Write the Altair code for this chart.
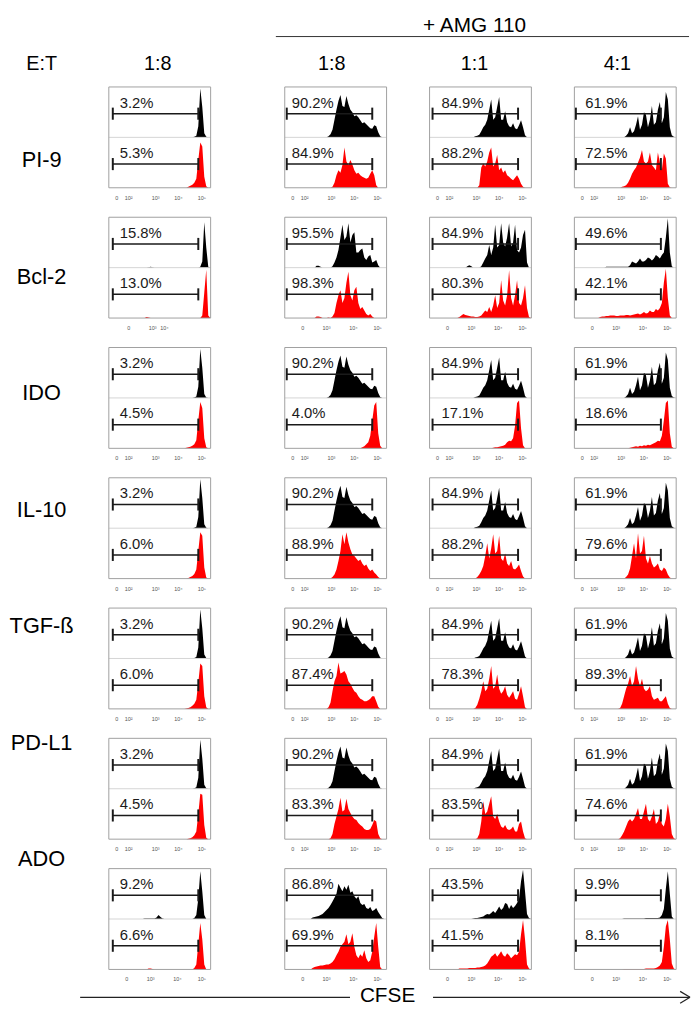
import altair as alt
import pandas as pd

FONT = "Liberation Sans"

# ---------------- text content ----------------
MARKERS = ["PI-9", "Bcl-2", "IDO", "IL-10", "TGF-ß", "PD-L1", "ADO"]
COL_TITLES = ["1:8", "1:8", "1:1", "4:1"]
ET_TITLE = "E:T"
GROUP_TITLE = "+ AMG 110"
AXIS_TITLE = "CFSE"

PCT_BLACK = [
    ["3.2%", "90.2%", "84.9%", "61.9%"],
    ["15.8%", "95.5%", "84.9%", "49.6%"],
    ["3.2%", "90.2%", "84.9%", "61.9%"],
    ["3.2%", "90.2%", "84.9%", "61.9%"],
    ["3.2%", "90.2%", "84.9%", "61.9%"],
    ["3.2%", "90.2%", "84.9%", "61.9%"],
    ["9.2%", "86.8%", "43.5%", "9.9%"],
]
PCT_RED = [
    ["5.3%", "84.9%", "88.2%", "72.5%"],
    ["13.0%", "98.3%", "80.3%", "42.1%"],
    ["4.5%", "4.0%", "17.1%", "18.6%"],
    ["6.0%", "88.9%", "88.2%", "79.6%"],
    ["6.0%", "87.4%", "78.3%", "89.3%"],
    ["4.5%", "83.3%", "83.5%", "74.6%"],
    ["6.6%", "69.9%", "41.5%", "8.1%"],
]

# ---------------- CFSE axis (display channels 0-1024) ----------------
X_MAX = 1024
BIN_START = 240
BIN_STEP = 20
N_BINS = 40
TICKS_STD_POS = [80, 200, 470, 700, 935]
TICKS_STD_LAB = ["0", "10²", "10³", "10⁴", "10⁵"]
TICKS_ALT_POS = [180, 420, 690, 935]
TICKS_ALT_LAB = ["0", "10³", "10⁴", "10⁵"]
TICKS_BCL1_POS = [200, 440, 560]
TICKS_BCL1_LAB = ["0", "10³", "10⁴"]
TICK_SET = ["std", "alt", "std", "std", "std", "std", "alt"]
MINOR_TICKS = [20, 50, 80, 110, 140, 170, 200, 281, 329, 363, 389, 410, 428, 444, 458, 470,
               539, 580, 608, 631, 649, 664, 678, 689, 700, 771, 812, 841, 864, 883, 899,
               912, 924, 935]

# gate limits and label position per column (channels)
GATE_LO = [40, 20, 30, 15]
GATE_HI = [900, 880, 890, 870]
TEXT_X = [110, 70, 120, 110]

# ---------------- histogram heights (% of half-panel), bins 240..1020 step 20 ----------------
K1 = [0,0,0,0,0,0,0,0,0,0, 0,0,0,0,0,0,0,0,0,0, 0,0,0,0,0,0,0,0,0,0, 0,1,3,22,97,60,8,1,0,0]
K2 = [0,0,0,0,0,0,0,0,0,0, 2,6,15,35,55,72,84,62,60,82, 66,55,50,42,44,40,34,28,30,26, 22,18,17,24,22,10,2,0,0,0]
K3 = [0,0,0,0,0,0,0,0,0,0, 0,2,3,5,12,20,25,35,55,75, 35,40,60,80,35,35,52,30,22,20, 28,18,16,24,34,20,4,0,0,0]
K4 = [0,0,0,0,0,0,0,0,0,0, 0,0,0,0,3,8,20,8,12,25, 42,15,25,50,45,20,35,62,25,30, 55,70,28,40,90,75,20,4,1,0]
K_STD = [K1, K2, K3, K4]

K_BCL2 = [
    [0,0,0,0,0,0,0,0,1,2, 1,0,0,0,0,0,0,0,0,0, 0,0,0,0,0,0,0,0,0,0, 0,0,0,0,2,12,90,40,2,0],
    [0,0,0,0,4,4,2,0,0,0, 0,0,3,10,20,35,60,85,55,62, 88,50,65,70,30,30,35,38,20,15, 22,25,10,12,15,5,0,0,0,0],
    [0,0,0,0,0,0,0,3,5,3, 0,0,0,0,3,10,18,25,45,25, 40,85,40,45,88,50,42,60,88,42, 50,85,35,30,40,65,75,10,0,0],
    [0,0,0,0,2,2,2,2,2,2, 2,2,2,2,2,2,5,12,10,8, 12,18,12,12,15,20,18,14,18,25, 22,18,25,30,60,98,30,3,0,0],
]
K_ADO = [
    [0,0,0,0,0,0,1,1,1,1, 1,1,3,8,4,1,0,0,0,0, 0,0,0,0,0,0,0,0,0,0, 0,2,8,40,95,55,8,0,0,0],
    [0,0,3,4,5,6,8,10,14,18, 22,28,35,42,50,70,62,55,65,58, 68,52,55,45,40,45,32,28,30,22, 20,24,16,18,22,14,8,2,0,0],
    [0,0,0,0,0,0,0,0,0,0, 1,2,2,3,4,5,8,10,9,12, 16,12,18,25,18,22,32,30,20,28, 22,26,32,40,75,98,55,10,2,0],
    [0,0,0,0,0,0,0,0,0,0, 0,0,0,1,1,1,1,1,1,1, 1,1,1,1,2,2,2,2,2,2, 2,3,8,20,60,95,50,5,0,0],
]

R_PI9 = [
    [0,0,0,0,0,0,0,0,0,0, 0,0,0,0,0,0,0,0,0,0, 0,0,0,0,0,0,0,0,2,4, 6,10,18,55,90,82,22,3,0,0],
    [0,0,0,0,0,0,0,0,0,0, 0,0,2,10,25,35,30,45,80,52, 45,55,46,35,28,30,25,22,20,18, 20,28,35,25,5,0,0,0,0,0],
    [0,0,0,0,0,0,0,0,0,0, 0,0,0,5,40,48,42,52,70,80, 42,48,65,35,40,30,35,25,22,18, 15,20,25,18,8,2,0,0,0,0],
    [0,0,0,0,0,0,0,0,0,0, 0,0,2,3,5,10,18,28,35,40, 50,60,75,52,48,52,70,45,40,35, 70,50,35,68,58,8,1,0,0,0],
]
R_BCL2 = [
    [0,0,0,0,0,0,0,2,1,0, 0,0,0,0,0,0,0,0,0,0, 0,0,0,0,0,0,0,0,0,0, 0,0,0,0,0,5,50,96,5,0],
    [0,0,0,0,3,3,2,0,0,0, 1,0,3,10,30,45,55,30,40,70, 92,45,35,55,62,30,18,22,15,8, 5,8,3,0,0,0,0,0,0,0],
    [0,0,0,2,5,8,6,5,4,3, 3,2,2,3,5,10,15,12,22,12, 25,45,20,30,75,35,25,45,95,40, 25,45,75,30,25,40,65,20,2,0],
    [0,2,3,3,4,4,5,5,5,4, 4,5,5,5,6,6,5,6,7,8, 9,7,9,12,9,10,15,12,12,18, 15,20,30,70,98,40,5,0,0,0],
]
R_IDO = [
    [0,0,0,0,0,0,0,0,0,0, 0,0,0,0,0,0,0,0,0,0, 0,0,0,0,0,0,0,1,2,3, 5,8,16,55,92,80,20,2,0,0],
    [0,0,0,0,0,0,0,0,0,0, 0,0,0,0,0,0,0,0,0,0, 0,0,0,0,0,0,0,2,4,8, 12,25,55,85,92,30,5,0,0,0],
    [0,0,0,0,0,0,0,0,0,0, 0,0,0,0,0,0,0,0,0,0, 1,2,2,3,4,5,7,12,15,14, 20,45,90,95,40,6,0,0,0,0],
    [0,0,0,0,0,0,0,0,0,0, 0,0,0,0,0,0,1,2,3,4, 3,5,4,6,5,7,6,8,10,12, 15,14,25,55,90,95,30,3,0,0],
]
R_IL10 = [
    [0,0,0,0,0,0,0,0,0,0, 0,0,0,0,0,0,0,0,0,0, 0,0,0,0,0,0,0,0,1,3, 5,9,18,55,92,85,22,2,0,0],
    [0,0,0,0,0,0,0,0,0,0, 0,0,3,8,18,35,55,88,68,92, 72,58,48,45,40,35,38,30,25,28, 20,15,18,12,8,3,0,0,0,0],
    [0,0,0,0,0,0,0,0,0,0, 0,0,3,8,15,25,45,70,40,60, 88,50,55,85,40,35,50,30,25,35, 20,18,22,28,15,4,0,0,0,0],
    [0,0,0,0,0,0,0,0,0,0, 0,0,0,0,3,8,20,45,70,40, 90,50,55,85,40,30,45,30,22,25, 30,18,15,22,18,8,2,0,0,0],
]
R_TGF = [
    [0,0,0,0,0,0,0,0,0,0, 0,0,0,0,0,0,0,0,0,0, 0,0,0,0,0,0,0,1,2,3, 6,10,18,52,90,85,25,3,0,0],
    [0,0,0,0,0,0,0,0,0,0, 3,12,35,55,65,92,70,72,75,68, 55,50,42,35,32,25,20,18,15,15, 17,20,25,25,15,4,0,0,0,0],
    [0,0,0,0,0,0,0,0,0,0, 0,2,8,20,35,55,35,40,60,85, 40,45,68,40,30,35,45,28,22,28, 35,20,18,30,45,25,3,0,0,0],
    [0,0,0,0,0,0,0,0,0,0, 0,2,10,25,40,50,65,45,55,85, 60,45,60,40,35,38,45,25,18,20, 22,15,15,20,25,10,2,0,0,0],
]
R_PDL1 = [
    [0,0,0,0,0,0,0,0,0,0, 0,0,0,0,0,0,0,0,0,0, 0,0,0,0,0,0,0,0,1,2, 4,8,15,50,90,88,28,3,0,0],
    [0,0,0,0,0,0,0,0,0,0, 0,2,10,30,45,60,82,55,58,80, 60,52,45,40,38,32,28,25,20,18, 18,20,28,38,35,10,2,0,0,0],
    [0,0,0,0,0,0,0,0,0,0, 0,0,2,10,35,75,50,55,70,85, 45,40,50,35,25,22,28,20,18,20, 25,15,15,30,35,15,2,0,0,0],
    [0,0,0,0,0,0,0,0,0,0, 0,2,8,15,25,35,40,35,40,50, 62,40,40,55,70,40,35,45,60,30, 35,50,30,25,40,70,45,10,2,0],
]
R_ADO = [
    [0,0,0,0,0,0,0,0,2,2, 1,0,0,0,0,0,0,0,0,0, 0,0,0,0,0,0,0,0,0,0, 0,3,10,50,92,60,10,0,0,0],
    [0,0,3,5,6,7,8,8,9,10, 10,12,15,20,28,35,45,50,55,70, 50,55,72,45,28,22,30,25,38,22, 15,18,35,65,92,45,5,0,0,0],
    [0,0,0,2,2,2,2,2,3,3, 3,3,4,4,5,6,8,12,18,25, 28,32,25,30,36,28,25,32,28,22, 26,30,28,35,70,98,60,10,2,0],
    [0,0,0,0,0,0,0,0,0,0, 0,0,0,1,1,1,1,1,1,1, 1,1,1,1,2,2,2,2,2,3, 5,8,15,45,85,98,60,12,2,0],
]

BLACK = [K_STD, K_BCL2, K_STD, K_STD, K_STD, K_STD, K_ADO]
RED = [R_PI9, R_BCL2, R_IDO, R_IL10, R_TGF, R_PDL1, R_ADO]

# ---------------- layout (pixels) ----------------
PW, PH = 103, 102          # one panel (two stacked halves)
ROW_GAP = 13.8             # plus the tick labels below each panel
LW = 66                    # row-label column
SP_LAB, SP_MID, SP_IN = 33, 73, 41.5
TOTAL_W = 690
TOP_H, BOT_H = 71, 23
X_COL1 = LW + SP_LAB
X_COL2 = X_COL1 + PW + SP_MID
X_RIGHT = X_COL2 + 3 * PW + 2 * SP_IN
HEAD_X = [LW / 2, X_COL1 + PW / 2] + [X_COL2 + k * (PW + SP_IN) + PW / 2 for k in range(3)]

GATE_OFF, CAP, TEXT_OFF = 0.47, 0.12, 0.69
LABEL_Y = 0.54
TICK_LABEL_Y = -0.2

# ---------------- table ----------------
rows = []
for r, m in enumerate(MARKERS):
    for c in range(4):
        rows.append(dict(kind="panel", marker=m, cond=c, mid=1.0, ly=LABEL_Y))
        for half, base, hist, pct in (("k", 1.0, BLACK[r][c], PCT_BLACK[r][c]),
                                      ("r", 0.0, RED[r][c], PCT_RED[r][c])):
            assert len(hist) == N_BINS, (m, c, half, len(hist))
            for i, h in enumerate(hist):
                rows.append(dict(kind="hist", marker=m, cond=c, half=half,
                                 x=BIN_START + BIN_STEP * i, yt=base + h / 100.0, yb=base))
            gy = base + GATE_OFF
            rows.append(dict(kind="gate", marker=m, cond=c, half=half, lo=GATE_LO[c], hi=GATE_HI[c],
                             gy=gy, gy1=gy - CAP, gy2=gy + CAP, tx=TEXT_X[c],
                             ty=base + TEXT_OFF, pct=pct))
        if r == 1 and c == 0:
            pos, labs = TICKS_BCL1_POS, TICKS_BCL1_LAB
        elif TICK_SET[r] == "alt":
            pos, labs = TICKS_ALT_POS, TICKS_ALT_LAB
        else:
            pos, labs = TICKS_STD_POS, TICKS_STD_LAB
        for p, l in zip(pos, labs):
            rows.append(dict(kind="tick", marker=m, cond=c, x=p, tyl=TICK_LABEL_Y, lab=l))
df = pd.DataFrame(rows)

XS = alt.Scale(domain=[0, X_MAX], nice=False, zero=False)
YS = alt.Scale(domain=[0, 2], nice=False, zero=False)


def panel_column(c):
    d = df[df["cond"] == c]
    base = alt.Chart()
    area = base.transform_filter("datum.kind == 'hist'").mark_area(interpolate="linear").encode(
        x=alt.X("x:Q", scale=XS, axis=alt.Axis(values=MINOR_TICKS, labels=False, tickSize=2,
                                               tickColor="#777777", tickWidth=0.8,
                                               domainColor="#a0a0a0", grid=False, title=None)),
        y=alt.Y("yt:Q", scale=YS, axis=None),
        y2="yb:Q",
        color=alt.Color("half:N", scale=alt.Scale(domain=["k", "r"], range=["#000000", "#ff0000"]),
                        legend=None),
    )
    divider = base.transform_filter("datum.kind == 'panel'").mark_rule(color="#d4d4d4", strokeWidth=1).encode(
        x=alt.value(0), x2=alt.value(PW), y=alt.Y("mid:Q", scale=YS, axis=None))
    g = base.transform_filter("datum.kind == 'gate'")
    gate = g.mark_rule(color="#1a1a1a", strokeWidth=1.5).encode(
        x=alt.X("lo:Q", scale=XS, axis=None), x2="hi:Q", y=alt.Y("gy:Q", scale=YS, axis=None))
    cap_lo = g.mark_rule(color="#1a1a1a", strokeWidth=2).encode(
        x=alt.X("lo:Q", scale=XS, axis=None), y=alt.Y("gy1:Q", scale=YS, axis=None), y2="gy2:Q")
    cap_hi = g.mark_rule(color="#1a1a1a", strokeWidth=2).encode(
        x=alt.X("hi:Q", scale=XS, axis=None), y=alt.Y("gy1:Q", scale=YS, axis=None), y2="gy2:Q")
    pct = g.mark_text(align="left", baseline="middle", fontSize=15, font=FONT, color="#1a1a1a").encode(
        x=alt.X("tx:Q", scale=XS, axis=None), y=alt.Y("ty:Q", scale=YS, axis=None), text="pct:N")
    ticklab = base.transform_filter("datum.kind == 'tick'").mark_text(
        align="center", baseline="middle", fontSize=5.5, font=FONT, color="#555555").encode(
        x=alt.X("x:Q", scale=XS, axis=None), y=alt.Y("tyl:Q", scale=YS, axis=None), text="lab:N")
    border = base.transform_filter("datum.kind == 'panel'").mark_rect(
        fillOpacity=0, stroke="#a0a0a0", strokeWidth=1).encode(
        x=alt.value(0), x2=alt.value(PW), y=alt.value(0), y2=alt.value(PH))
    layer = alt.layer(area, divider, gate, cap_lo, cap_hi, pct, ticklab, border).properties(
        width=PW, height=PH)
    return layer.facet(
        row=alt.Row("marker:N", sort=MARKERS, header=None), data=d, spacing=ROW_GAP
    ).resolve_axis(x="independent")


labels = alt.Chart().mark_text(fontSize=22, font=FONT, align="center", baseline="middle",
                               color="#000000").encode(
    x=alt.value(LW / 2), y=alt.Y("ly:Q", scale=YS, axis=None), text="marker:N"
).properties(width=LW, height=PH).facet(
    row=alt.Row("marker:N", sort=MARKERS, header=None),
    data=df[(df["kind"] == "panel") & (df["cond"] == 0)], spacing=ROW_GAP
)

cols = [panel_column(c) for c in range(4)]

middle = alt.hconcat(
    alt.hconcat(labels, cols[0], spacing=SP_LAB),
    alt.hconcat(cols[1], cols[2], cols[3], spacing=SP_IN),
    spacing=SP_MID,
)

# header strip: group title, its rule, and column headings
hdf = pd.DataFrame({"t": [ET_TITLE] + COL_TITLES, "hx": HEAD_X})
tdf = pd.DataFrame({"t": [GROUP_TITLE]})
HEAD_SCALE = alt.Scale(domain=[0, TOTAL_W], range=[0, TOTAL_W], nice=False, zero=False)
top = alt.layer(
    alt.Chart(tdf).mark_text(fontSize=21, font=FONT, align="center", baseline="top",
                             color="#000000").encode(
        x=alt.value((X_COL2 + X_RIGHT) / 2), y=alt.value(0), text="t:N"),
    alt.Chart(tdf).mark_rule(color="#333333", strokeWidth=1).encode(
        x=alt.value(X_COL2 - 5), x2=alt.value(TOTAL_W - 2), y=alt.value(22)),
    alt.Chart(hdf).mark_text(fontSize=20, font=FONT, align="center", baseline="middle",
                             color="#000000").encode(
        x=alt.X("hx:Q", scale=HEAD_SCALE, axis=None), y=alt.value(50), text="t:N"),
).properties(width=TOTAL_W, height=TOP_H)

bdf = pd.DataFrame({"t": [AXIS_TITLE]})
LINE_Y = 13
CFSE_X = 383
bottom = alt.layer(
    alt.Chart(bdf).mark_text(fontSize=21, font=FONT, align="center", baseline="top",
                             color="#000000").encode(
        x=alt.value(CFSE_X), y=alt.value(1), text="t:N"),
    alt.Chart(bdf).mark_rule(color="#222222", strokeWidth=1.2).encode(
        x=alt.value(72), x2=alt.value(CFSE_X - 38), y=alt.value(LINE_Y)),
    alt.Chart(bdf).mark_rule(color="#222222", strokeWidth=1.2).encode(
        x=alt.value(CFSE_X + 46), x2=alt.value(TOTAL_W - 1), y=alt.value(LINE_Y)),
    alt.Chart(bdf).mark_rule(color="#222222", strokeWidth=1.2).encode(
        x=alt.value(TOTAL_W - 11), x2=alt.value(TOTAL_W - 1), y=alt.value(LINE_Y - 6), y2=alt.value(LINE_Y)),
    alt.Chart(bdf).mark_rule(color="#222222", strokeWidth=1.2).encode(
        x=alt.value(TOTAL_W - 11), x2=alt.value(TOTAL_W - 1), y=alt.value(LINE_Y + 6), y2=alt.value(LINE_Y)),
).properties(width=TOTAL_W, height=BOT_H)

chart = alt.vconcat(top, middle, bottom, spacing=0).properties(
    padding=0
).configure(font=FONT).configure_view(stroke="transparent")

chart.save("out.html", embed_options={"renderer": "svg", "actions": False})
